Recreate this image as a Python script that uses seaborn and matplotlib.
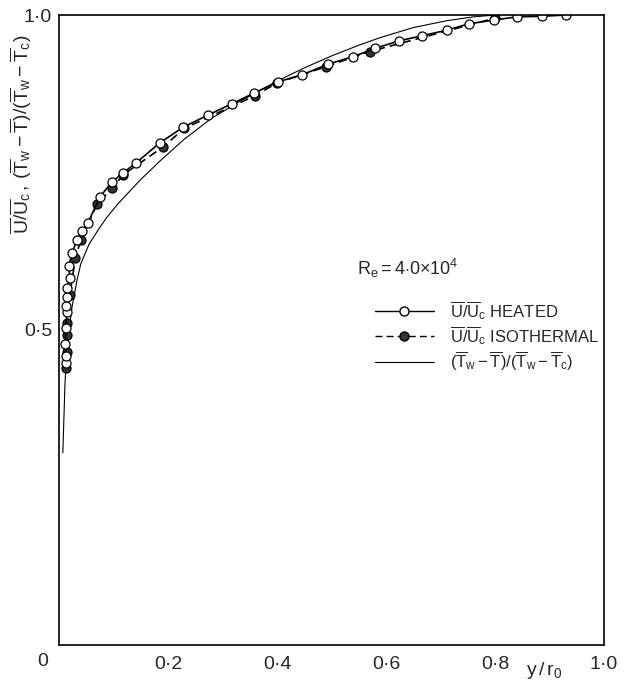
import matplotlib
matplotlib.use("Agg")
import matplotlib.pyplot as plt
from matplotlib.lines import Line2D
import seaborn as sns
import pandas as pd

# Mean velocity, heated pipe flow (open circles), wall-normal distance y/r0
heated_x = [0.012, 0.013, 0.011, 0.013, 0.014, 0.013, 0.014, 0.015, 0.020, 0.018,
            0.024, 0.033, 0.042, 0.053, 0.075, 0.097, 0.117, 0.141, 0.185, 0.228,
            0.273, 0.317, 0.358, 0.402, 0.446, 0.494, 0.540, 0.580, 0.624, 0.666,
            0.712, 0.752, 0.798, 0.840, 0.886, 0.930]
heated_y = [0.448, 0.459, 0.478, 0.503, 0.529, 0.538, 0.552, 0.567, 0.583, 0.602,
            0.622, 0.643, 0.657, 0.670, 0.711, 0.735, 0.749, 0.765, 0.797, 0.822,
            0.841, 0.859, 0.876, 0.894, 0.905, 0.922, 0.934, 0.947, 0.959, 0.967,
            0.976, 0.986, 0.992, 0.997, 0.998, 1.000]

# Mean velocity, isothermal flow (filled circles)
iso_x = [0.013, 0.014, 0.015, 0.014, 0.020, 0.030, 0.040, 0.070, 0.098, 0.117,
         0.190, 0.230, 0.360, 0.400, 0.490, 0.570, 0.800]
iso_y = [0.440, 0.465, 0.492, 0.511, 0.556, 0.614, 0.643, 0.700, 0.725, 0.746,
         0.790, 0.820, 0.872, 0.892, 0.918, 0.942, 0.995]

# Mean temperature profile (Tw - T)/(Tw - Tc)
temp_x = [0.007, 0.009, 0.011, 0.014, 0.017, 0.020, 0.024, 0.033, 0.040, 0.055,
          0.075, 0.088, 0.110, 0.149, 0.185, 0.230, 0.280, 0.330, 0.400, 0.450,
          0.500, 0.550, 0.589, 0.650, 0.712, 0.760, 0.800]
temp_y = [0.305, 0.360, 0.416, 0.458, 0.485, 0.510, 0.537, 0.579, 0.605, 0.636,
          0.663, 0.679, 0.702, 0.738, 0.768, 0.803, 0.836, 0.862, 0.895, 0.916,
          0.935, 0.952, 0.964, 0.980, 0.991, 0.997, 1.000]

x_ticks = [0.2, 0.4, 0.6, 0.8, 1.0]
x_ticklabels = ["0·2", "0·4", "0·6", "0·8", "1·0"]
y_ticks = [0.5, 1.0]
y_ticklabels = ["0·5", "1·0"]

sns.set_theme(style="white")
plt.rcParams["font.family"] = ["Liberation Sans", "DejaVu Sans"]
plt.rcParams["mathtext.fontset"] = "custom"
plt.rcParams["mathtext.rm"] = "Liberation Sans"
plt.rcParams["mathtext.it"] = "Liberation Sans"

fig = plt.figure(figsize=(6.32, 6.87), dpi=100)
ax = fig.add_axes([59 / 632, 42 / 687, 545 / 632, 630 / 687])

heated = pd.DataFrame({"x": heated_x, "y": heated_y})
iso = pd.DataFrame({"x": iso_x, "y": iso_y})
temp = pd.DataFrame({"x": temp_x, "y": temp_y})

sns.lineplot(data=temp, x="x", y="y", sort=False, estimator=None, ax=ax,
             color="black", linewidth=0.8)
sns.lineplot(data=iso, x="x", y="y", sort=False, estimator=None, ax=ax,
             color="black", linewidth=1.2, linestyle=(0, (5, 3)),
             marker="o", markersize=6.5, markerfacecolor="#333333",
             markeredgecolor="black", markeredgewidth=0.9)
sns.lineplot(data=heated, x="x", y="y", sort=False, estimator=None, ax=ax,
             color="black", linewidth=1.2,
             marker="o", markersize=6.5, markerfacecolor="white",
             markeredgecolor="black", markeredgewidth=0.9)

ax.set_xlim(0, 1.0)
ax.set_ylim(0, 1.0)

for s in ax.spines.values():
    s.set_color("black")
    s.set_linewidth(1.2)

ax.set_xticks(x_ticks)
ax.set_xticklabels(x_ticklabels, fontsize=14)
ax.set_yticks(y_ticks)
ax.set_yticklabels(y_ticklabels, fontsize=14)
ax.tick_params(axis="x", direction="in", length=6, width=1.0, color="black", pad=8)
ax.tick_params(axis="y", length=0, pad=5)
ax.text(-0.03, -0.0127, "0", transform=ax.transAxes, ha="center", va="top", fontsize=14)

ax.set_xlabel("")
ax.set_ylabel(r"$\overline{\mathrm{U}}/\overline{\mathrm{U}}_\mathrm{c}\,,\,"
              r"(\overline{\mathrm{T}}_\mathrm{w}-\overline{\mathrm{T}})/"
              r"(\overline{\mathrm{T}}_\mathrm{w}-\overline{\mathrm{T}}_\mathrm{c})$",
              fontsize=14)
ax.yaxis.set_label_coords(-0.045, 0.81)
ax.text(0.89, -0.04, r"$\mathrm{y}\,/\,\mathrm{r_0}$", transform=ax.transAxes,
        ha="center", va="center", fontsize=14)

ax.text(0.547, 0.597, r"$\mathrm{R_e = 4{\cdot}0{\times}10^4}$", transform=ax.transAxes,
        ha="left", va="center", fontsize=13)

handles = [
    Line2D([], [], color="black", linewidth=1.0, marker="o", markersize=6.5,
           markerfacecolor="white", markeredgecolor="black"),
    Line2D([], [], color="black", linewidth=1.0, linestyle=(0, (5, 3)), marker="o",
           markersize=6.5, markerfacecolor="#333333", markeredgecolor="black"),
    Line2D([], [], color="black", linewidth=0.8),
]
labels = [
    r"$\overline{\mathrm{U}}/\overline{\mathrm{U}}_\mathrm{c}$ HEATED",
    r"$\overline{\mathrm{U}}/\overline{\mathrm{U}}_\mathrm{c}$ ISOTHERMAL",
    r"$(\overline{\mathrm{T}}_\mathrm{w}-\overline{\mathrm{T}})/"
    r"(\overline{\mathrm{T}}_\mathrm{w}-\overline{\mathrm{T}}_\mathrm{c})$",
]
ax.legend(handles, labels, loc="upper left", bbox_to_anchor=(0.568, 0.56),
          frameon=False, fontsize=12, handlelength=3.5, numpoints=1,
          labelspacing=0.15, handletextpad=1.0, borderaxespad=0)

fig.savefig("out.png", dpi=100)
